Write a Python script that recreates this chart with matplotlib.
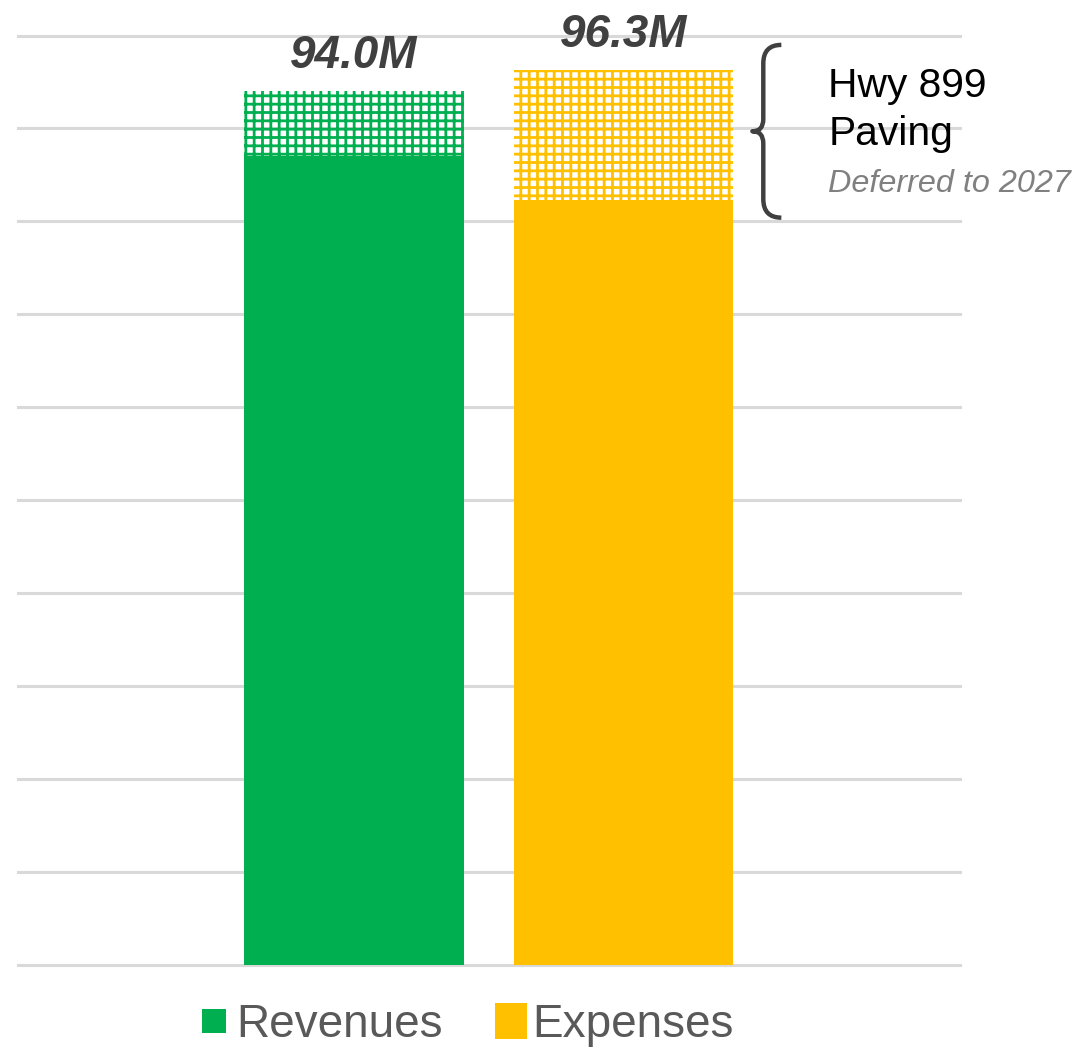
import matplotlib
matplotlib.use("Agg")
import matplotlib.pyplot as plt
from matplotlib.lines import Line2D
from matplotlib.path import Path
from matplotlib.patches import PathPatch
import numpy as np

plt.rcParams["font.family"] = ["Liberation Sans", "DejaVu Sans"]
plt.rcParams["hatch.linewidth"] = 2.0

# Budget bars: funded portion plus the deferred Hwy 899 paving project
categories = ["Revenues", "Expenses"]
base = [87.0, 82.3]
deferred = [7.0, 14.0]
colors = ["#00B050", "#FFC000"]
brace_span = (80.4, 99.0)

totals = np.round(np.array(base) + np.array(deferred), 1)
x = np.arange(len(categories))
width = 0.816

fig = plt.figure(figsize=(10.84, 10.53), dpi=100)
ax = fig.add_axes([0.0166, 0.0840, 0.869, 0.8822])
ax.set_xlim(-1.247, 2.249)
ax.set_ylim(0, 100)

for v in range(0, 101, 10):
    ax.axhline(v, color="#d9d9d9", lw=2.2, zorder=0, clip_on=False)

for i in range(len(categories)):
    ax.bar(x[i], base[i], width, color=colors[i], linewidth=0, zorder=2)
    ax.bar(x[i], deferred[i], width, bottom=base[i], facecolor="none",
           edgecolor=colors[i], hatch="++", linewidth=0, zorder=2)
    ax.annotate(f"{totals[i]:.1f}M", xy=(x[i], totals[i]), xytext=(0, 16.5),
                textcoords="offset points", ha="center", va="baseline",
                fontsize=33, fontweight="bold", fontstyle="italic",
                color="#404040", annotation_clip=False)

# curly brace next to the expenses bar
right = x[1] + width / 2
x1, x2, x3 = right + 0.0705, right + 0.111, right + 0.178
lo, hi = brace_span
mid = (lo + hi) / 2
verts = [(x3, hi), (x2, hi), (x2, hi - 2.0),
         (x2, mid + 1.3), (x2, mid), (x1, mid),
         (x2, mid), (x2, mid - 1.3),
         (x2, lo + 2.0), (x2, lo), (x3, lo)]
codes = [Path.MOVETO, Path.CURVE3, Path.CURVE3,
         Path.LINETO, Path.CURVE3, Path.CURVE3,
         Path.CURVE3, Path.CURVE3,
         Path.LINETO, Path.CURVE3, Path.CURVE3]
ax.add_patch(PathPatch(Path(verts, codes), facecolor="none", edgecolor="#404040",
                       lw=3.2, capstyle="butt", joinstyle="round", clip_on=False))

tx = right + 0.352
ax.text(tx, 93.4, "Hwy 899", fontsize=29.3, color="black", va="baseline")
ax.text(tx, 88.2, "Paving", fontsize=29.3, color="black", va="baseline")
ax.text(tx, 83.2, "Deferred to 2027", fontsize=23.3, color="#808080",
        fontstyle="italic", va="baseline")

for s in ax.spines.values():
    s.set_visible(False)
ax.set_xticks([])
ax.set_yticks([])

rect = Path([(-0.446, -0.5), (0.446, -0.5), (0.446, 0.5), (-0.446, 0.5), (-0.446, -0.5)],
            [Path.MOVETO, Path.LINETO, Path.LINETO, Path.LINETO, Path.CLOSEPOLY])
handles = [Line2D([], [], ls="none", marker="s", markersize=17.3,
                  markerfacecolor=colors[0], markeredgewidth=0),
           Line2D([], [], ls="none", marker=rect, markersize=26.6,
                  markerfacecolor=colors[1], markeredgewidth=0)]
leg = fig.legend(handles, categories, loc="center", ncol=2,
                 bbox_to_anchor=(465 / 1084, 1 - 1025 / 1053), frameon=False,
                 fontsize=33, handlelength=0.8, handletextpad=0.078,
                 columnspacing=1.08, borderpad=0)
for t in leg.get_texts():
    t.set_color("#595959")

fig.savefig("out.png", dpi=100)
